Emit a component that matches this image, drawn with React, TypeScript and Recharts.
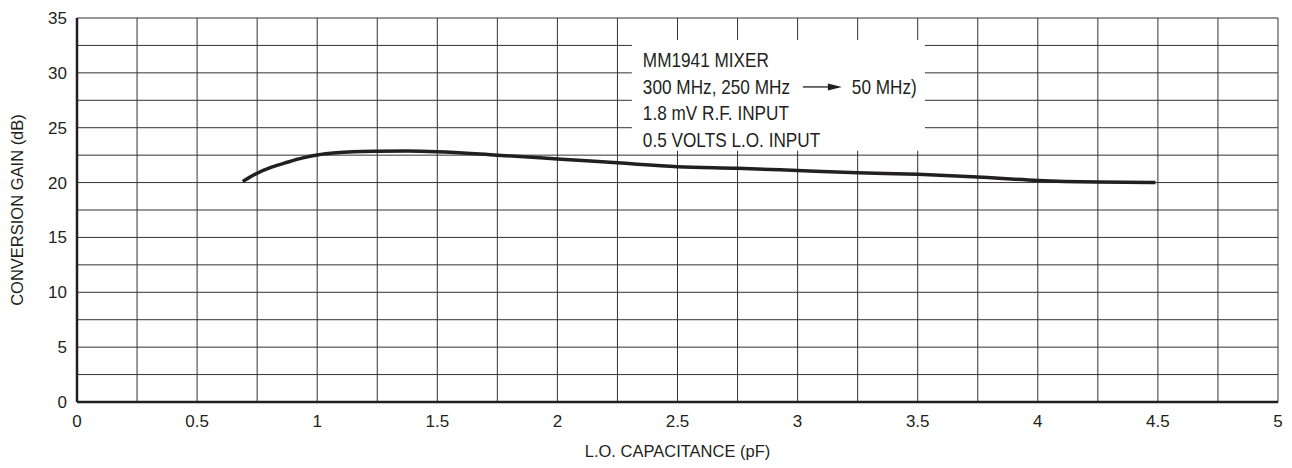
import { LineChart, Line, XAxis, YAxis, CartesianGrid, ReferenceArea } from 'recharts'

// L.O. capacitance (pF) vs conversion gain (dB)
const capacitance = [0.69, 0.75, 0.81, 0.875, 0.94, 1.0, 1.08, 1.15, 1.25, 1.375, 1.5, 1.75, 2.0, 2.25, 2.5, 2.75, 3.0, 3.25, 3.5, 3.75, 4.0, 4.25, 4.49]
const gain = [20.1, 20.85, 21.4, 21.85, 22.25, 22.52, 22.72, 22.81, 22.86, 22.88, 22.82, 22.5, 22.15, 21.8, 21.45, 21.3, 21.1, 20.9, 20.75, 20.5, 20.2, 20.05, 20.0]

const xTicks = [0, 0.25, 0.5, 0.75, 1, 1.25, 1.5, 1.75, 2, 2.25, 2.5, 2.75, 3, 3.25, 3.5, 3.75, 4, 4.25, 4.5, 4.75, 5]
const yTicks = [0, 2.5, 5, 7.5, 10, 12.5, 15, 17.5, 20, 22.5, 25, 27.5, 30, 32.5, 35]

const noteLines = ['MM1941 MIXER', '300 MHz, 250 MHz', '1.8 mV R.F. INPUT', '0.5 VOLTS L.O. INPUT']

const data = capacitance.map((c, i) => ({ c, gain: gain[i] }))

const ink = '#231f20'
const font = '"Liberation Sans", Arial, sans-serif'
const squeeze = 0.86

const NoteContent = (props: any) => {
  const { x, y } = props.viewBox
  const left = x + 11
  return (
    <g fontFamily={font} fontSize={20} fill={ink}>
      {noteLines.map((t, i) => (
        <text key={t} transform={`translate(${left} ${y + 27 + i * 26.6}) scale(${squeeze} 1)`}>
          {t}
        </text>
      ))}
      <line x1={x + 171} y1={y + 47} x2={x + 198} y2={y + 47} stroke={ink} strokeWidth={1.3} />
      <path d={`M${x + 196} ${y + 43.5} L${x + 210} ${y + 47} L${x + 196} ${y + 50.5} Z`} fill={ink} />
      <text transform={`translate(${x + 220} ${y + 53.6}) scale(${squeeze} 1)`}>50 MHz)</text>
    </g>
  )
}

const YLabel = (props: any) => {
  const { x, y, height } = props.viewBox
  const cx = x + 17
  const cy = y + height / 2
  return (
    <text
      x={cx}
      y={cy}
      transform={`rotate(-90 ${cx} ${cy})`}
      textAnchor="middle"
      dominantBaseline="central"
      fontFamily={font}
      fontSize={16.5}
      fill={ink}
    >
      CONVERSION GAIN (dB)
    </text>
  )
}

export default function App() {
  return (
    <div style={{ position: 'absolute', left: 0, top: 0, background: '#fff' }}>
      <LineChart width={1292} height={468} data={data} margin={{ top: 18, right: 14, bottom: 26, left: 0 }}>
        <CartesianGrid stroke="#333" strokeWidth={1} />
        <XAxis
          dataKey="c"
          type="number"
          domain={[0, 5]}
          ticks={xTicks}
          interval={0}
          tickFormatter={(v: number) => (v % 0.5 === 0 ? String(v) : '')}
          tickLine={false}
          tickMargin={7}
          height={40}
          axisLine={{ stroke: ink, strokeWidth: 2.5 }}
          tick={{ fill: ink, fontSize: 17, fontFamily: font }}
          label={{
            value: 'L.O. CAPACITANCE (pF)',
            position: 'bottom',
            offset: 3,
            fill: ink,
            fontSize: 16.5,
            fontFamily: font,
          }}
        />
        <YAxis
          type="number"
          domain={[0, 35]}
          ticks={yTicks}
          interval={0}
          tickFormatter={(v: number) => (v % 5 === 0 ? String(v) : '')}
          tickLine={false}
          tickMargin={4}
          width={77}
          axisLine={{ stroke: ink, strokeWidth: 2.5 }}
          tick={{ fill: ink, fontSize: 17, fontFamily: font }}
          label={{ content: YLabel }}
        />
        <ReferenceArea
          x1={2.31}
          x2={3.53}
          y1={22.9}
          y2={33.0}
          fill="#fff"
          fillOpacity={1}
          stroke="none"
          ifOverflow="visible"
          label={{ content: NoteContent }}
        />
        <Line
          type="monotone"
          dataKey="gain"
          stroke={ink}
          strokeWidth={3.5}
          dot={false}
          isAnimationActive={false}
        />
      </LineChart>
    </div>
  )
}
